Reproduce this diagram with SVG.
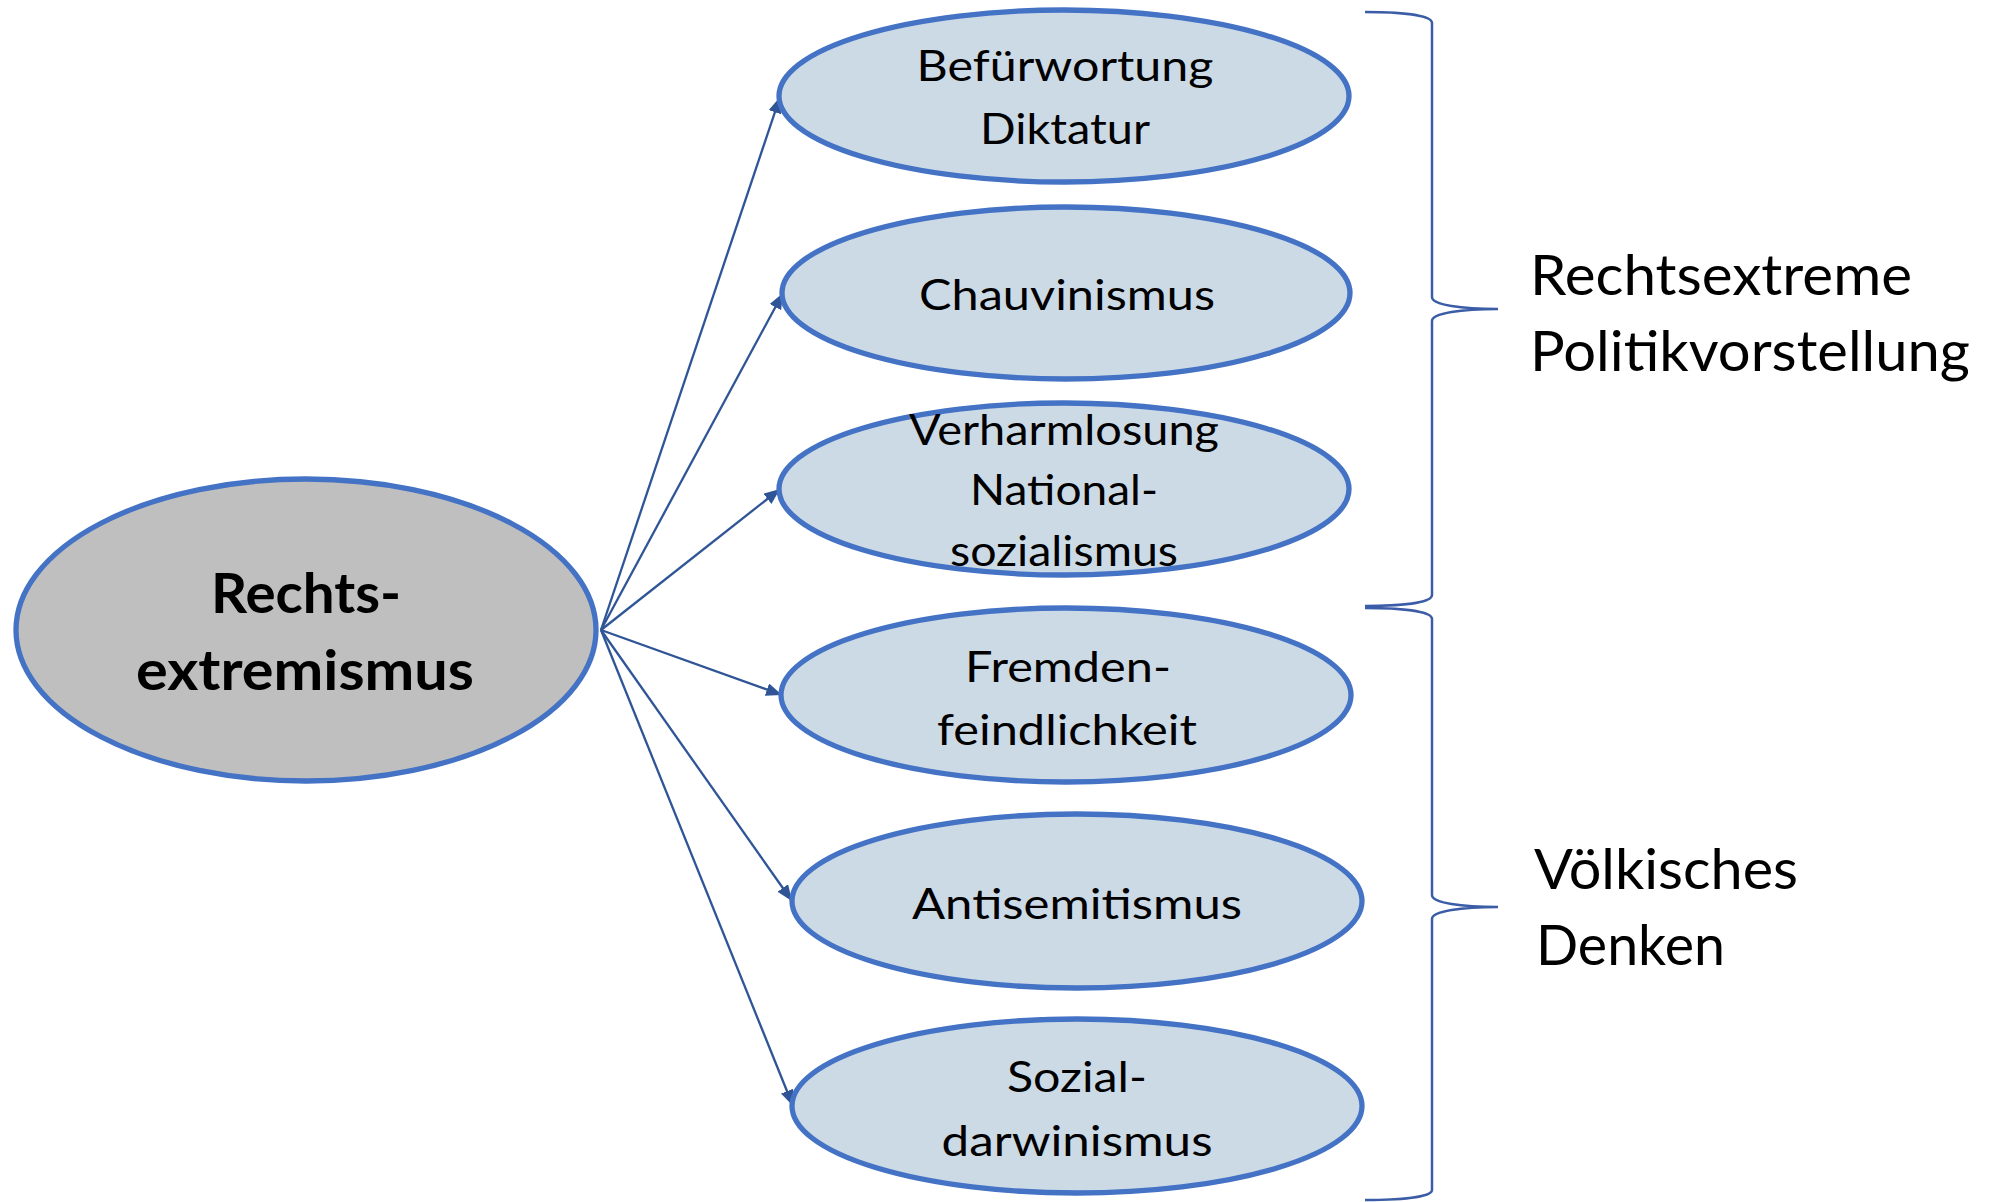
<svg xmlns="http://www.w3.org/2000/svg" width="1996" height="1202" viewBox="0 0 1996 1202">
<style>
.node{fill:#CCDAE6;stroke:#4472C4;stroke-width:5.3}
.main{fill:#BFBFBF;stroke:#4472C4;stroke-width:5.3}
.t{font-family:Lato,"Open Sans",sans-serif;font-size:43px;fill:#000;text-anchor:middle}
.tb{font-family:Lato,"Open Sans",sans-serif;font-size:56px;font-weight:bold;fill:#000;text-anchor:middle}
.lbl{font-family:Lato,"Open Sans",sans-serif;font-size:56px;fill:#000}
.conn{stroke:#2F5597;stroke-width:2.3;fill:none}
.brace{stroke:#3B5CA6;stroke-width:2.5;fill:none}
</style>
<defs>
<marker id="arr" markerUnits="userSpaceOnUse" markerWidth="18" markerHeight="14" refX="16" refY="6.5" orient="auto">
<path d="M0,0 L16,6.5 L0,13 Z" fill="#2F5597"/>
</marker>
</defs>
<rect width="1996" height="1202" fill="#fff"/>
<g id="connectors">
<line class="conn" x1="601" y1="630" x2="780" y2="97" marker-end="url(#arr)"/>
<line class="conn" x1="601" y1="630" x2="783" y2="293" marker-end="url(#arr)"/>
<line class="conn" x1="601" y1="630" x2="780" y2="489" marker-end="url(#arr)"/>
<line class="conn" x1="601" y1="630" x2="782" y2="695" marker-end="url(#arr)"/>
<line class="conn" x1="601" y1="630" x2="792" y2="901" marker-end="url(#arr)"/>
<line class="conn" x1="601" y1="630" x2="793" y2="1106" marker-end="url(#arr)"/>
</g>
<g id="n-main">
<ellipse class="main" cx="306" cy="630" rx="290" ry="151"/>
<text class="tb" x="306" y="613" textLength="190" lengthAdjust="spacingAndGlyphs">Rechts-</text>
<text class="tb" x="305" y="690" textLength="338" lengthAdjust="spacingAndGlyphs">extremismus</text>
</g>
<g id="n-diktatur">
<ellipse class="node" cx="1064" cy="96" rx="285" ry="86"/>
<text class="t" x="1065" y="81" textLength="297" lengthAdjust="spacingAndGlyphs">Befürwortung</text>
<text class="t" x="1065" y="144" textLength="170" lengthAdjust="spacingAndGlyphs">Diktatur</text>
</g>
<g id="n-chauvinismus">
<ellipse class="node" cx="1066" cy="293" rx="284" ry="86"/>
<text class="t" x="1067" y="310" textLength="296" lengthAdjust="spacingAndGlyphs">Chauvinismus</text>
</g>
<g id="n-ns">
<ellipse class="node" cx="1064" cy="489" rx="285" ry="86"/>
<text class="t" x="1064" y="445" textLength="310" lengthAdjust="spacingAndGlyphs">Verharmlosung</text>
<text class="t" x="1064" y="505" textLength="188" lengthAdjust="spacingAndGlyphs">National-</text>
<text class="t" x="1064" y="566" textLength="228" lengthAdjust="spacingAndGlyphs">sozialismus</text>
</g>
<g id="n-fremden">
<ellipse class="node" cx="1066" cy="695" rx="285" ry="87"/>
<text class="t" x="1068" y="682" textLength="206" lengthAdjust="spacingAndGlyphs">Fremden-</text>
<text class="t" x="1067" y="745" textLength="260" lengthAdjust="spacingAndGlyphs">feindlichkeit</text>
</g>
<g id="n-antisemitismus">
<ellipse class="node" cx="1077" cy="901" rx="285" ry="87"/>
<text class="t" x="1077" y="919" textLength="330" lengthAdjust="spacingAndGlyphs">Antisemitismus</text>
</g>
<g id="n-sozial">
<ellipse class="node" cx="1077" cy="1106" rx="285" ry="87"/>
<text class="t" x="1077" y="1092" textLength="140" lengthAdjust="spacingAndGlyphs">Sozial-</text>
<text class="t" x="1077" y="1156" textLength="271" lengthAdjust="spacingAndGlyphs">darwinismus</text>
</g>
<g id="brace-top">
<path class="brace" d="M1365,12 C1400,12 1432,15 1432,23 L1432,297 C1432,305 1462,309 1498,309 C1462,309 1432,313 1432,321 L1432,595 C1432,603 1400,606 1365,606"/>
<text class="lbl" x="1530" y="295" textLength="382" lengthAdjust="spacingAndGlyphs">Rechtsextreme</text>
<text class="lbl" x="1530" y="371" textLength="440" lengthAdjust="spacingAndGlyphs">Politikvorstellung</text>
</g>
<g id="brace-bottom">
<path class="brace" d="M1365,608 C1400,608 1432,611 1432,619 L1432,895 C1432,903 1462,907 1498,907 C1462,907 1432,911 1432,919 L1432,1190 C1432,1197 1400,1200 1365,1200"/>
<text class="lbl" x="1534" y="889" textLength="264" lengthAdjust="spacingAndGlyphs">Völkisches</text>
<text class="lbl" x="1536" y="965" textLength="189" lengthAdjust="spacingAndGlyphs">Denken</text>
</g>
</svg>
